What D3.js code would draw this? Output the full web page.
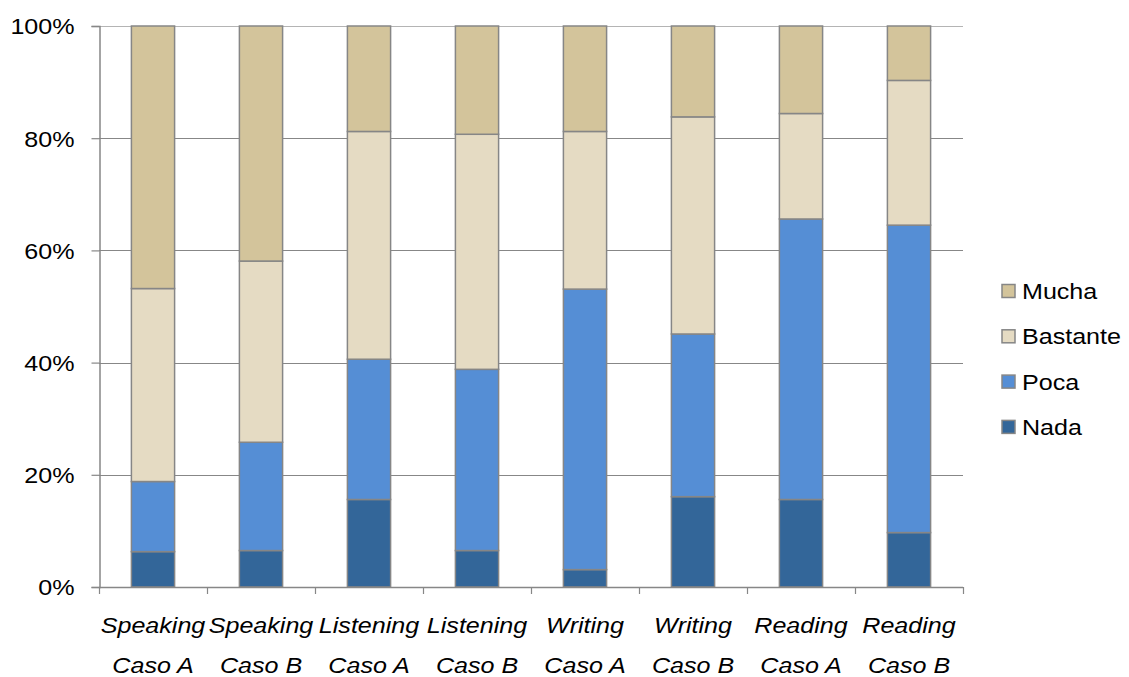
<!DOCTYPE html>
<html>
<head>
<meta charset="utf-8">
<script src="https://cdn.jsdelivr.net/npm/d3@7"></script>
<style>
  html, body { margin: 0; padding: 0; background: #fff; }
  svg text { font-family: "Liberation Sans", Arial, sans-serif; fill: #000; }
</style>
</head>
<body>
<svg id="chart" width="1129" height="677"></svg>
<script>
// Skill categories (two-line labels)
const skills = ["Speaking", "Speaking", "Listening", "Listening", "Writing", "Writing", "Reading", "Reading"];
const cases  = ["Caso A", "Caso B", "Caso A", "Caso B", "Caso A", "Caso B", "Caso A", "Caso B"];

// Share of responses per level (%), stacked bottom to top
const nada     = [6.3, 6.5, 15.6, 6.5, 3.1, 16.1, 15.6, 9.7];
const poca     = [12.5, 19.3, 25.0, 32.3, 50.0, 29.0, 50.0, 54.8];
const bastante = [34.4, 32.3, 40.6, 41.9, 28.1, 38.7, 18.8, 25.8];
const mucha    = [46.8, 41.9, 18.8, 19.3, 18.8, 16.2, 15.6, 9.7];

const seriesNames = ["Nada", "Poca", "Bastante", "Mucha"];
const seriesColors = ["#336699", "#558ED5", "#E5DBC3", "#D3C49B"];
const yTicks = [0, 20, 40, 60, 80, 100];

const FONT = 22;      // label font size
const STRETCH = 1.14; // horizontal widening of label glyphs

const svg = d3.select("#chart");
const margin = { left: 99, right: 963, top: 26, bottom: 587 };

const keys = skills.map((s, i) => i);
const rows = keys.map(i => ({ key: i, Nada: nada[i], Poca: poca[i], Bastante: bastante[i], Mucha: mucha[i] }));

const x = d3.scaleBand().domain(keys).range([margin.left, margin.right]).paddingInner(0.6).paddingOuter(0.3);
const xb = d3.scaleBand().domain(keys).range([margin.left, margin.right]);
const y = d3.scaleLinear().domain([0, 100]).range([margin.bottom, margin.top]);

// Helper: place a text node at (tx, ty) with widened glyphs
function placeText(sel, tx, ty) {
  sel.attr("x", 0).attr("y", 0)
     .attr("transform", (d, i) => `translate(${tx(d, i)},${ty(d, i)}) scale(${STRETCH},1)`);
}

// Horizontal gridlines
svg.append("g")
  .selectAll("line")
  .data(yTicks.filter(t => t > 0))
  .join("line")
  .attr("x1", margin.left).attr("x2", margin.right)
  .attr("y1", d => Math.round(y(d)) + 0.5).attr("y2", d => Math.round(y(d)) + 0.5)
  .attr("stroke", d => d === 100 ? "#b4b4b4" : "#878787")
  .attr("stroke-width", 1.2);

// Stacked bars
const stack = d3.stack().keys(seriesNames);
const layers = stack(rows);
svg.append("g")
  .selectAll("g")
  .data(layers)
  .join("g")
  .attr("fill", (d, i) => seriesColors[i])
  .selectAll("rect")
  .data(d => d)
  .join("rect")
  .attr("x", d => x(d.data.key))
  .attr("width", x.bandwidth())
  .attr("y", d => y(d[1]))
  .attr("height", d => y(d[0]) - y(d[1]))
  .attr("stroke", "#868686")
  .attr("stroke-width", 1.5);

// Y axis
const yAxis = d3.axisLeft(y).tickValues(yTicks).tickFormat(d => d + "%").tickSize(8).tickPadding(18);
const gy = svg.append("g").attr("transform", `translate(${margin.left + 0.5},0)`).call(yAxis);
gy.select(".domain").attr("stroke", "#878787").attr("stroke-width", 1.5);
gy.selectAll(".tick line").attr("stroke", "#878787").attr("stroke-width", 1.2);
gy.selectAll(".tick text")
  .attr("font-size", FONT)
  .attr("font-family", "Liberation Sans, Arial, sans-serif")
  .attr("fill", "#000")
  .attr("dy", "0.36em")
  .attr("x", 0)
  .attr("transform", `translate(-25,0) scale(${STRETCH},1)`);

// X axis baseline and tick marks at category boundaries
const gx = svg.append("g");
gx.append("line")
  .attr("x1", margin.left).attr("x2", margin.right)
  .attr("y1", margin.bottom + 0.5).attr("y2", margin.bottom + 0.5)
  .attr("stroke", "#878787").attr("stroke-width", 1.5);
const bounds = keys.map(k => xb(k)).concat([margin.right]);
gx.selectAll("line.tk")
  .data(bounds)
  .join("line")
  .attr("class", "tk")
  .attr("x1", d => d + 0.5).attr("x2", d => d + 0.5)
  .attr("y1", margin.bottom).attr("y2", margin.bottom + 7)
  .attr("stroke", "#878787").attr("stroke-width", 1.2);

// Category labels (two lines)
const cx = d => xb(d) + xb.bandwidth() / 2;
gx.selectAll("text.skill")
  .data(keys)
  .join("text")
  .attr("class", "skill")
  .attr("text-anchor", "middle")
  .attr("font-size", FONT)
  .attr("font-style", "italic")
  .text(d => skills[d])
  .call(placeText, cx, () => 633);
gx.selectAll("text.case")
  .data(keys)
  .join("text")
  .attr("class", "case")
  .attr("text-anchor", "middle")
  .attr("font-size", FONT)
  .attr("font-style", "italic")
  .text(d => cases[d])
  .call(placeText, cx, () => 673);

// Legend (top to bottom: Mucha, Bastante, Poca, Nada)
const legendOrder = [3, 2, 1, 0];
const lg = svg.append("g")
  .selectAll("g")
  .data(legendOrder)
  .join("g")
  .attr("transform", (d, i) => `translate(1002, ${291 + i * 45.3})`);
lg.append("rect")
  .attr("x", 0).attr("y", -6.5).attr("width", 13).attr("height", 13)
  .attr("fill", d => seriesColors[d])
  .attr("stroke", "#868686").attr("stroke-width", 1.5);
lg.append("text")
  .attr("font-size", FONT)
  .attr("dy", "0.36em")
  .text(d => seriesNames[d])
  .call(placeText, () => 20, () => 0);
</script>
</body>
</html>
